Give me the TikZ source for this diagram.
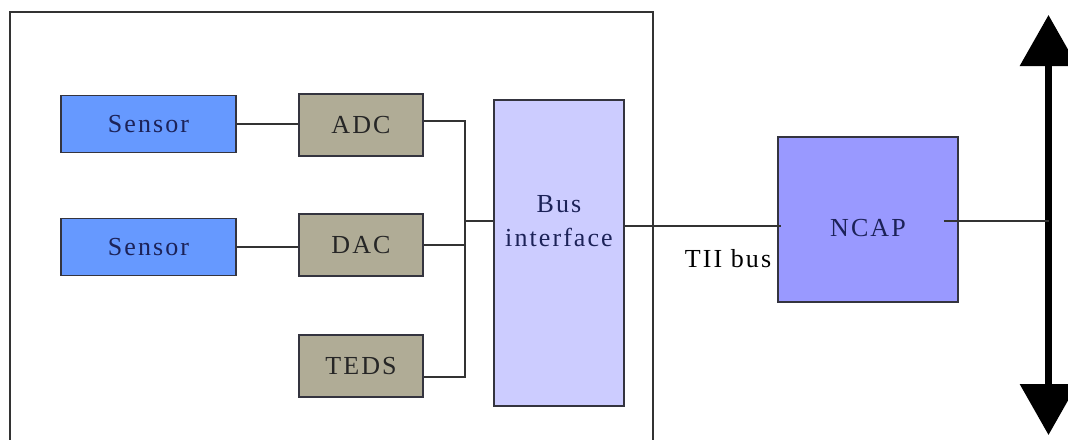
\documentclass[tikz,border=0pt]{standalone}
\usepackage{fontspec}
\newfontfamily\diafont{Liberation Serif}[LetterSpace=8]
\usetikzlibrary{positioning,arrows.meta}
\definecolor{sensblue}{HTML}{6699FF}
\definecolor{convgray}{HTML}{B0AC96}
\definecolor{buslilac}{HTML}{CCCCFF}
\definecolor{ncapblue}{HTML}{9999FF}
\definecolor{txtnavy}{HTML}{1C2258}
\definecolor{edgegray}{HTML}{34343F}

\begin{document}
\begin{tikzpicture}[x=1pt, y=-1pt,
  box/.style={draw=edgegray, line width=1.5pt, inner sep=0pt, align=center,
              font=\diafont\fontsize{26}{29}\selectfont},
  sens/.style={box, fill=sensblue, text=txtnavy,
               minimum width=175pt, minimum height=57pt},
  conv/.style={box, fill=convgray, text=black!85,
               minimum width=124pt, minimum height=62pt},
  wire/.style={line width=1.3pt, draw=black!80},
  linkbus/.style={line width=6.5pt,
                  {Triangle[length=51pt,width=56pt]}-{Triangle[length=51pt,width=56pt]}},
  lbl/.style={font=\diafont\fontsize{26}{29}\selectfont, inner sep=0pt},
]
\useasboundingbox (0,0) rectangle (1068,439);

% ---- STIM frame (open at the bottom) ----
\draw[wire] (10,445) -- (10,12) -- (653,12) -- (653,445);

% ---- Sensors and converters ----
\node[sens] (sen1) at (148.5,124) {Sensor};
\node[sens] (sen2) at (148.5,247) {Sensor};
\node[conv] (adc) at (361,125) {ADC};
\node[conv] (dac) at (361,245) {DAC};
\node[conv] (teds) at (361,366) {TEDS};

\node[box, fill=buslilac, minimum width=130pt, minimum height=306pt,
      label={[lbl, text=txtnavy, align=center, yshift=32pt]center:Bus\\[5pt]interface}]
  (bif) at (559,253) {};

% ---- NCAP ----
\node[box, fill=ncapblue, minimum width=180pt, minimum height=165pt,
      label={[lbl, text=txtnavy, yshift=-9pt]center:NCAP}]
  (ncap) at (868,219.5) {};

% ---- Wiring inside the STIM ----
\coordinate (jA) at (465,121);
\coordinate (jB) at (465,221);
\coordinate (jT) at (465,377);

\draw[wire] (sen1.east) -- (adc.west |- sen1.east);
\draw[wire] (sen2.east) -- (dac.west |- sen2.east);
\draw[wire] (adc.east |- jA) -- (jA) -- (jT) -- (teds.east |- jT);
\draw[wire] (dac.east) -- (dac.east -| jA);
\draw[wire] (jB) -- (bif.west |- jB);

% ---- TII bus ----
\coordinate (tii) at (624,226);
\draw[wire] (bif.east |- tii) -- ([xshift=4pt]ncap.west |- tii)
  node[lbl, pos=0.66, yshift=-33pt] (tiilbl) {TII bus};

% ---- Network side ----
\coordinate (nettop) at (1048.5,15);
\coordinate (netbot) at (1048.5,435);
\draw[linkbus] (nettop) -- (netbot);
\draw[wire] ([xshift=-15pt]ncap.east |- 0,221) -- (nettop |- 0,221);

\end{tikzpicture}
\end{document}
